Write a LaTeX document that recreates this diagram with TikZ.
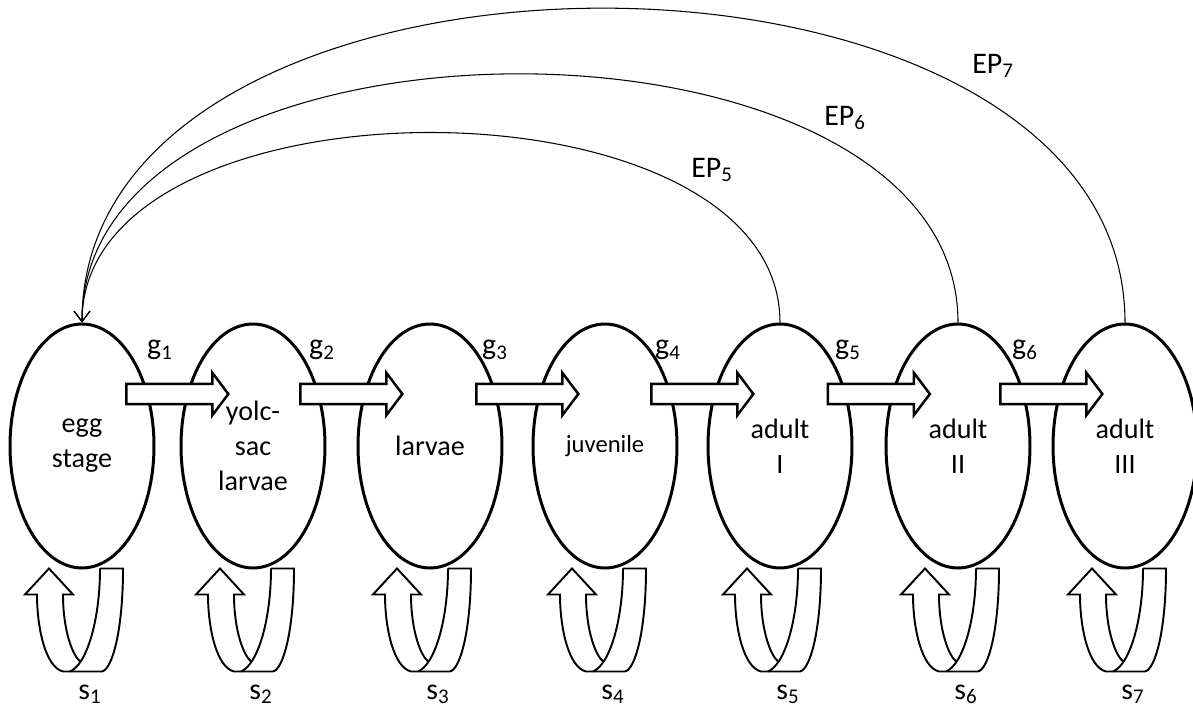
\documentclass[tikz,border=0pt]{standalone}
\usepackage{fontspec}
\setmainfont{Carlito}
\usetikzlibrary{shapes.geometric,shapes.arrows,calc,arrows.meta}

\begin{document}
\begin{tikzpicture}[
        x=0.02cm, y=0.02cm,
        estadio/.style={ellipse, draw, fill=white, line width=1.7pt, inner sep=0pt,
            minimum width=2.88cm, minimum height=4.88cm, align=center,
            font=\fontsize{16}{20}\selectfont},
        flecha/.style={single arrow, draw, fill=white, line width=1.4pt,
            minimum height=2.04cm, inner xsep=0pt, inner ysep=0.18cm,
            single arrow head extend=0.22cm, single arrow tip angle=106},
        arco/.style={line width=0.6pt, -{Straight Barb[length=6pt, width=9pt]}},
        rotulo/.style={font=\fontsize{17}{20}\selectfont},
        bucle/.pic={
            \draw[line width=1.1pt]
                (18,1) -- (41,1) .. controls (41,-62) and (30,-100) .. (20,-102) -- (-19,-102)
                .. controls (-36,-98) and (-45,-60) .. (-45,-25) -- (-57,-25) -- (-33,1)
                -- (-9,-25) -- (-19,-25) .. controls (-19,-60) and (-10,-85) .. (-2,-92);
            \draw[line width=1.1pt] (18,1) .. controls (18,-50) and (5,-95) .. (-12,-102);
        }
    ]
        \useasboundingbox (0,0) rectangle (1193,-719);

        % Estadios
        \node[estadio] (e1) at (82,-446) {egg\\stage};
        \node[estadio] (e2) at (253,-446) {yolc-\\sac\\larvae};
        \node[estadio] (e3) at (430,-446) {larvae};
        \node[estadio, font=\fontsize{14}{17}\selectfont] (e4) at (605,-446) {juvenile};
        \node[estadio] (e5) at (780,-446) {adult\\I};
        \node[estadio] (e6) at (958,-446) {adult\\II};
        \node[estadio] (e7) at (1125,-446) {adult\\III};

        % Crecimiento
        \foreach \i/\j in {1/2,2/3,3/4,4/5,5/6,6/7}
            \node[flecha] (f\i) at ($(e\i)!0.5!(e\j)+(6,52)$) {};
        \foreach \i/\x in {1/160,2/322,3/495,4/668,5/848,6/1025}
            \node[rotulo] (g\i) at (\x,-350) {g\textsubscript{\i}};

        % Supervivencia
        \foreach \i in {1,...,7} {
            \pic at (e\i.south) {bucle};
            \node[rotulo] (s\i) at ($(e\i.south)+(8,-125)$) {s\textsubscript{\i}};
        }

        % Reproduccion
        \draw[arco] (e5.north) to[out=90, in=90, looseness=0.93] (e1.north);
        \draw[arco] (e6.north) to[out=90, in=90, looseness=0.97] (e1.north);
        \draw[arco] (e7.north) to[out=90, in=90, looseness=1.03] (e1.north);
        \node[rotulo] (ep5) at (712,-170) {EP\textsubscript{5}};
        \node[rotulo] (ep6) at (845,-118) {EP\textsubscript{6}};
        \node[rotulo] (ep7) at (993,-66) {EP\textsubscript{7}};
    \end{tikzpicture}
\end{document}
